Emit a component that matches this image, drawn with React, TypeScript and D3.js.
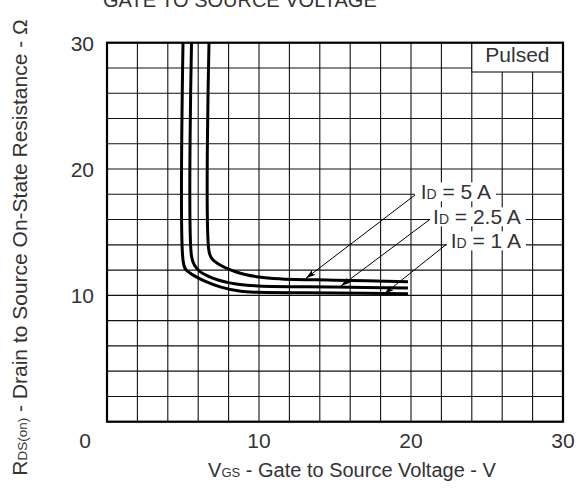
import React, { useEffect, useRef } from "react";
import * as d3 from "d3";

// ---- data ----
const xTicks = [10, 20, 30];
const yTicks = [10, 20, 30];
const gridX = d3.range(0, 31, 2);
const gridY = d3.range(0, 31, 2);

const vgs1A = [5.0, 5.0, 5.15, 5.6, 6.4, 7.5, 8.8, 10, 15, 19.8];
const rds1A = [30, 12.8, 12.1, 11.65, 11.15, 10.65, 10.32, 10.24, 10.19, 10.13];
const vgs25A = [5.56, 5.56, 5.75, 6.1, 7.0, 8.5, 10, 15, 19.8];
const rds25A = [30, 13.1, 12.4, 11.9, 11.35, 10.9, 10.74, 10.66, 10.58];
const vgs5A = [6.71, 6.71, 6.9, 7.3, 8.5, 10, 11.5, 15, 19.8];
const rds5A = [30, 13.5, 12.9, 12.5, 11.85, 11.45, 11.3, 11.2, 11.08];

const seriesNames = ["5 A", "2.5 A", "1 A"];
// label text start (V, R), leader start (V, R), arrow tip (V, R)
const labelPos = [
  [20.64, 17.6],
  [21.45, 15.62],
  [22.61, 13.72],
];
const leaderStart = [
  [20.26, 17.94],
  [21.25, 16.02],
  [22.35, 14.06],
];
const arrowTip = [
  [13.09, 11.35],
  [15.39, 10.74],
  [18.24, 10.11],
];

const W = 580;
const H = 491;
const M = { left: 107, right: 563, top: 42.7, bottom: 421.7 };
const FONT = "'Liberation Sans', Arial, Helvetica, sans-serif";
const TXT = "#333";

export default function App() {
  const ref = useRef<SVGSVGElement | null>(null);

  useEffect(() => {
    const svg = d3.select(ref.current);
    svg.selectAll("*").remove();
    const x = d3.scaleLinear().domain([0, 30]).range([M.left, M.right]);
    const y = d3.scaleLinear().domain([0, 30]).range([M.bottom, M.top]);

    const defs = svg.append("defs");
    defs
      .append("marker")
      .attr("id", "arr")
      .attr("viewBox", "0 0 10 6")
      .attr("refX", 10)
      .attr("refY", 3)
      .attr("markerWidth", 11)
      .attr("markerHeight", 6)
      .attr("markerUnits", "userSpaceOnUse")
      .attr("orient", "auto")
      .append("path")
      .attr("d", "M0,0 L10,3 L0,6 L2.5,3 Z")
      .attr("fill", "#000");

    const g = svg.append("g");
    // grid
    g.selectAll("line.gx")
      .data(gridX)
      .join("line")
      .attr("x1", (d) => x(d))
      .attr("x2", (d) => x(d))
      .attr("y1", M.top)
      .attr("y2", M.bottom)
      .attr("stroke", "#111")
      .attr("stroke-width", 1.1);
    g.selectAll("line.gy")
      .data(gridY)
      .join("line")
      .attr("y1", (d) => y(d))
      .attr("y2", (d) => y(d))
      .attr("x1", M.left)
      .attr("x2", M.right)
      .attr("stroke", "#111")
      .attr("stroke-width", 1.1);

    // Pulsed box
    g.append("rect")
      .attr("x", x(24))
      .attr("y", M.top)
      .attr("width", M.right - x(24))
      .attr("height", 72 - M.top)
      .attr("fill", "#fff")
      .attr("stroke", "#111")
      .attr("stroke-width", 1.1);
    g.append("text")
      .attr("x", (x(24) + M.right) / 2)
      .attr("y", 61.5)
      .attr("text-anchor", "middle")
      .attr("font-size", 21)
      .attr("font-family", FONT)
      .attr("fill", TXT)
      .text("Pulsed");

    // border
    g.append("rect")
      .attr("x", M.left)
      .attr("y", M.top)
      .attr("width", M.right - M.left)
      .attr("height", M.bottom - M.top)
      .attr("fill", "none")
      .attr("stroke", "#000")
      .attr("stroke-width", 2.2);

    // curves
    const series = [
      { v: vgs5A, r: rds5A },
      { v: vgs25A, r: rds25A },
      { v: vgs1A, r: rds1A },
    ];
    const line = d3
      .line<[number, number]>()
      .x((d) => x(d[0]))
      .y((d) => y(d[1]))
      .curve(d3.curveCatmullRom.alpha(0.5));
    series.forEach((s) => {
      const pts = s.v.map((v, i) => [v, s.r[i]] as [number, number]);
      g.append("path")
        .attr("d", line(pts))
        .attr("fill", "none")
        .attr("stroke", "#000")
        .attr("stroke-width", 3);
    });

    // labels
    seriesNames.forEach((name, i) => {
      const lg = g.append("g");
      const bg = lg.append("rect").attr("fill", "#fff");
      const t = lg
        .append("text")
        .attr("x", x(labelPos[i][0]))
        .attr("y", y(labelPos[i][1]))
        .attr("font-size", 21)
        .attr("font-family", FONT)
        .attr("fill", TXT);
      t.append("tspan").text("I");
      t.append("tspan").attr("font-size", 14).text("D");
      t.append("tspan").text(" = " + name);
      const bb = (t.node() as SVGTextElement).getBBox();
      bg.attr("x", x(leaderStart[i][0]))
        .attr("y", bb.y + 2)
        .attr("width", bb.x + bb.width + 5 - x(leaderStart[i][0]))
        .attr("height", bb.height - 4);
      g.append("line")
        .attr("x1", x(leaderStart[i][0]))
        .attr("y1", y(leaderStart[i][1]))
        .attr("x2", x(arrowTip[i][0]))
        .attr("y2", y(arrowTip[i][1]))
        .attr("stroke", "#000")
        .attr("stroke-width", 1)
        .attr("marker-end", "url(#arr)");
    });

    // tick labels
    g.selectAll("text.xt")
      .data(xTicks)
      .join("text")
      .attr("x", (d) => x(d))
      .attr("y", 448)
      .attr("text-anchor", "middle")
      .attr("font-size", 21)
      .attr("font-family", FONT)
      .attr("fill", TXT)
      .text((d) => String(d));
    g.append("text")
      .attr("x", x(0) - 22)
      .attr("y", 448)
      .attr("text-anchor", "middle")
      .attr("font-size", 21)
      .attr("font-family", FONT)
      .attr("fill", TXT)
      .text("0");
    g.selectAll("text.yt")
      .data(yTicks)
      .join("text")
      .attr("x", M.left - 13)
      .attr("y", (d) => y(d) + 8)
      .attr("text-anchor", "end")
      .attr("font-size", 21)
      .attr("font-family", FONT)
      .attr("fill", TXT)
      .text((d) => String(d));

    // axis titles
    const xt = g
      .append("text")
      .attr("x", 352)
      .attr("y", 477)
      .attr("text-anchor", "middle")
      .attr("font-size", 20)
      .attr("font-family", FONT)
      .attr("fill", TXT);
    xt.append("tspan").text("V");
    xt.append("tspan").attr("font-size", 13).text("GS");
    xt.append("tspan").text(" - Gate to Source Voltage - V");

    const yt = g
      .append("text")
      .attr("transform", "translate(26.5,247.5) rotate(-90)")
      .attr("text-anchor", "middle")
      .attr("font-size", 21)
      .attr("font-family", FONT)
      .attr("fill", TXT);
    yt.append("tspan").text("R");
    yt.append("tspan").attr("font-size", 13.5).text("DS(on)");
    yt.append("tspan").text(" - Drain to Source On-State Resistance - Ω");

    g.append("text")
      .attr("x", 103)
      .attr("y", 7)
      .attr("font-size", 20)
      .attr("font-family", FONT)
      .attr("fill", TXT)
      .text("GATE TO SOURCE VOLTAGE");
  }, []);

  return (
    <svg
      ref={ref}
      width={W}
      height={H}
      style={{ position: "absolute", left: 0, top: 0, background: "#fff" }}
    />
  );
}
